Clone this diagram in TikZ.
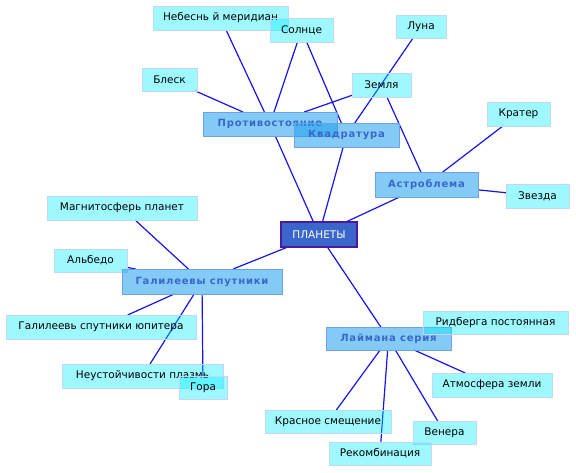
\documentclass[tikz,border=0pt]{standalone}
\usepackage{fontspec}
\setmainfont{DejaVu Sans}
\newfontfamily\boldsp[LetterSpace=8]{DejaVu Sans Bold}
\pgfdeclarelayer{edges}
\pgfsetlayers{edges,main}
\definecolor{leaffill}{HTML}{00EEFF}
\definecolor{leafline}{HTML}{C4D6F6}
\definecolor{midfill}{HTML}{1EA0EE}
\definecolor{midline}{HTML}{6FA2E4}
\definecolor{midtext}{HTML}{3A66CC}
\definecolor{rootfill}{HTML}{3A66CC}
\definecolor{rootline}{HTML}{4A1A9A}
\definecolor{edgecol}{HTML}{1414EE}
\tikzset{
  box/.style={rectangle, inner sep=0pt, outer sep=0pt},
  leaf/.style={box, fill=leaffill, fill opacity=0.38, text opacity=1, draw=leafline, line width=1pt, font=\fontsize{10.5}{12}\selectfont, text=black},
  mid/.style={box, fill=midfill, fill opacity=0.55, text opacity=1, draw=midline, line width=1pt, font=\fontsize{10}{12}\boldsp, text=midtext},
  root/.style={box, fill=rootfill, draw=rootline, line width=1.2pt, font=\fontsize{10.5}{12}\selectfont, text=white},
  edge/.style={draw=edgecol, line width=1.2pt},
  sz/.style 2 args={minimum width=#1, minimum height=#2}
}
\begin{document}
\begin{tikzpicture}[x=1pt,y=-1pt]
\useasboundingbox (0,0) rectangle (576,472);
\node[leaf, sz={135}{24}] (neb) at (220.5,18) {Небеснь й меридиан};
\node[leaf, sz={63}{24}] (sol) at (301.5,30) {Солнце};
\node[leaf, sz={55}{23}] (blesk) at (169.5,79.5) {Блеск};
\node[leaf, sz={59}{24}] (zem) at (381.5,85) {Земля};
\node[leaf, sz={50}{23}] (luna) at (421,26.5) {Луна};
\node[mid, sz={134}{24}] (prot) at (270,124) {Противостояние};
\node[mid, sz={105}{24}] (kvad) at (346.5,135) {Квадратура};
\node[leaf, sz={63}{24}] (krat) at (518.5,114) {Кратер};
\node[mid, sz={103}{25}] (astro) at (426.5,184.5) {Астроблема};
\node[leaf, sz={63}{24}] (zvez) at (537.5,196) {Звезда};
\node[root, sz={76}{25}] (plan) at (319,234.5) {ПЛАНЕТЫ};
\node[leaf, sz={150}{24}] (magn) at (122,208) {Магнитосферь планет};
\node[leaf, sz={73}{23}] (alb) at (90.5,260.5) {Альбедо};
\node[mid, sz={160}{25}] (gal) at (202,281.5) {Галилеевы спутники};
\node[leaf, sz={190}{24}] (galj) at (101,327) {Галилеевь спутники юпитера};
\node[leaf, sz={161}{24}] (neust) at (142.5,376) {Неустойчивости плазмь};
\node[leaf, sz={48}{23}] (gora) at (203,387.5) {Гора};
\node[mid, sz={125}{23}] (lay) at (388.5,338.5) {Лаймана серия};
\node[leaf, sz={145}{23}] (rid) at (495.5,322.5) {Ридберга постоянная};
\node[leaf, sz={120}{24}] (atm) at (492,385) {Атмосфера земли};
\node[leaf, sz={126}{23}] (kras) at (328,421.5) {Красное смещение};
\node[leaf, sz={63}{23}] (ven) at (444.5,432.5) {Венера};
\node[leaf, sz={102}{23}] (rek) at (380,453.5) {Рекомбинация};
\begin{pgfonlayer}{edges}
\draw[edge] (neb) -- (prot);
\draw[edge] (sol) -- (prot);
\draw[edge] (blesk) -- (prot);
\draw[edge] (zem) -- (prot);
\draw[edge] (sol) -- (kvad);
\draw[edge] (luna) -- (kvad);
\draw[edge] (zem) -- (astro);
\draw[edge] (krat) -- (astro);
\draw[edge] (zvez) -- (astro);
\draw[edge] (astro) -- (plan);
\draw[edge] (prot) -- (plan);
\draw[edge] (kvad) -- (plan);
\draw[edge] (plan) -- (gal);
\draw[edge] (plan) -- (lay);
\draw[edge] (magn) -- (gal);
\draw[edge] (alb) -- (gal);
\draw[edge] (gal) -- (galj);
\draw[edge] (gal) -- (neust);
\draw[edge] (gal) -- (gora);
\draw[edge] (lay) -- (kras);
\draw[edge] (lay) -- (rek);
\draw[edge] (lay) -- (ven);
\draw[edge] (lay) -- (atm);
\end{pgfonlayer}
\end{tikzpicture}
\end{document}
